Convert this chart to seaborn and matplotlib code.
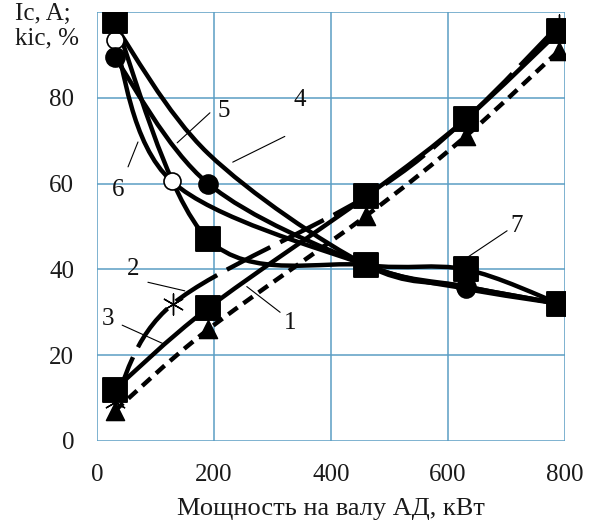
import numpy as np
import matplotlib
matplotlib.use("Agg")
import matplotlib.pyplot as plt
from matplotlib.path import Path
from matplotlib.patches import PathPatch
import seaborn as sns

# power on the motor shaft, kW
p1 = [30, 190, 460, 630, 790]
y1 = [7, 26, 52.5, 71, 91]          # curve 1, dashed, triangles
p2 = [30, 130, 460, 630, 790]
y2 = [9, 32, 57, 75, 97]            # curve 2, long dashes, asterisks
p3 = [30, 190, 460, 630, 790]
y3 = [12, 31, 57, 75, 95.5]         # curve 3, solid, squares
p4 = [30, 190, 460, 630, 790]
y4 = [97, 67, 41, 36, 32]           # curve 4, solid
p5 = [30, 190, 460, 630, 790]
y5 = [89.5, 60, 41, 36, 32]         # curve 5, filled circles
p6 = [30, 128, 460, 630, 790]
y6 = [93.5, 60.5, 41, 35.5, 32]     # curve 6, open circles
p7 = [30, 190, 460, 630, 790]
y7 = [98, 47, 41, 40, 32]           # curve 7, squares

x_ticks = [0, 200, 400, 600, 800]
y_ticks = [0, 20, 40, 60, 80, 100]
y_tick_labels = ["0", "20", "40", "60", "80", ""]

sns.set_style("white")
plt.rcParams['font.family'] = ['Liberation Serif', 'DejaVu Serif']

grid_c = "#5b9ec4"


def smooth(xs, ys):
    # Excel-like smoothed line: cubic Bezier segments through the points
    pts = np.column_stack([xs, ys]).astype(float)
    n = len(pts)
    verts = [pts[0]]
    codes = [Path.MOVETO]
    for i in range(n - 1):
        a = pts[i - 1] if i > 0 else pts[i]
        b = pts[i]
        c = pts[i + 1]
        d = pts[i + 2] if i + 2 < n else pts[i + 1]
        verts += [b + (c - a) / 6, c - (d - b) / 6, c]
        codes += [Path.CURVE4] * 3
    return Path(verts, codes)


fig = plt.figure(figsize=(5.92, 5.26), dpi=100)
ax = fig.add_axes([0.1639, 0.1616, 0.7905, 0.8156])

lw = 3.2
for xs, ys, ls in [(p1, y1, (0, (2.6, 1.6))),
                   (p2, y2, (0, (11, 2.5))),
                   (p3, y3, '-'),
                   (p4, y4, '-'),
                   (p5, y5, '-'),
                   (p6, y6, '-'),
                   (p7, y7, '-')]:
    ax.add_patch(PathPatch(smooth(xs, ys), fill=False, edgecolor='black',
                           lw=lw, linestyle=ls, capstyle='butt', zorder=3))

sns.scatterplot(x=p6, y=y6, marker='o', s=150, color='white',
                edgecolor='black', linewidth=1.2, ax=ax, zorder=4)
sns.scatterplot(x=p5, y=y5, marker='o', s=190, color='black',
                edgecolor='black', ax=ax, zorder=5)
sns.scatterplot(x=p1, y=y1, marker='^', s=170, color='black',
                edgecolor='black', ax=ax, zorder=5)
sns.scatterplot(x=p2, y=y2, marker=(6, 2, 0), s=230, color='black',
                linewidth=1.0, ax=ax, zorder=5)
sns.scatterplot(x=p3, y=y3, marker='s', s=290, color='black',
                edgecolor='black', ax=ax, zorder=6)
sns.scatterplot(x=p7, y=y7, marker='s', s=290, color='black',
                edgecolor='black', ax=ax, zorder=6)

# curve labels with leader lines
labels = [("1", 330, 27.5, (256, 36), (313, 30)),
          ("2", 62, 40, (87, 37), (150, 35)),
          ("3", 19, 28.5, (43, 27), (116, 22.5)),
          ("4", 347, 79.5, (232, 65), (321, 71)),
          ("5", 216, 77, (193, 76.5), (137, 69.5)),
          ("6", 36, 58.5, (70, 69.7), (53, 63.9)),
          ("7", 718, 50, (701, 49), (632, 42.7))]
for txt, tx, ty, a, b in labels:
    ax.text(tx, ty, txt, fontsize=18, ha='center', va='center', color='#111111',
            zorder=7)
    ax.plot([a[0], b[0]], [a[1], b[1]], color='black', lw=0.8, zorder=7)

ax.set_xlim(0, 800)
ax.set_ylim(0, 100)
ax.set_xticks(x_ticks)
ax.set_yticks(y_ticks)
ax.set_yticklabels(y_tick_labels)
ax.grid(True, color=grid_c, lw=1.1)
ax.set_axisbelow(True)
for s in ax.spines.values():
    s.set_visible(False)
ax.tick_params(axis='both', length=6.5, width=1.1, color=grid_c, pad=10,
               labelsize=18, labelcolor='#1a1a1a')
ax.set_xlabel("Мощность на валу АД, кВт", fontsize=19, labelpad=9,
              color='#1a1a1a')
fig.text(0.025, 0.995, "Ic, A;\nkic, %", fontsize=18, ha='left', va='top',
         linespacing=1.15, color='#1a1a1a')

fig.savefig("out.png", dpi=100, facecolor='white')
